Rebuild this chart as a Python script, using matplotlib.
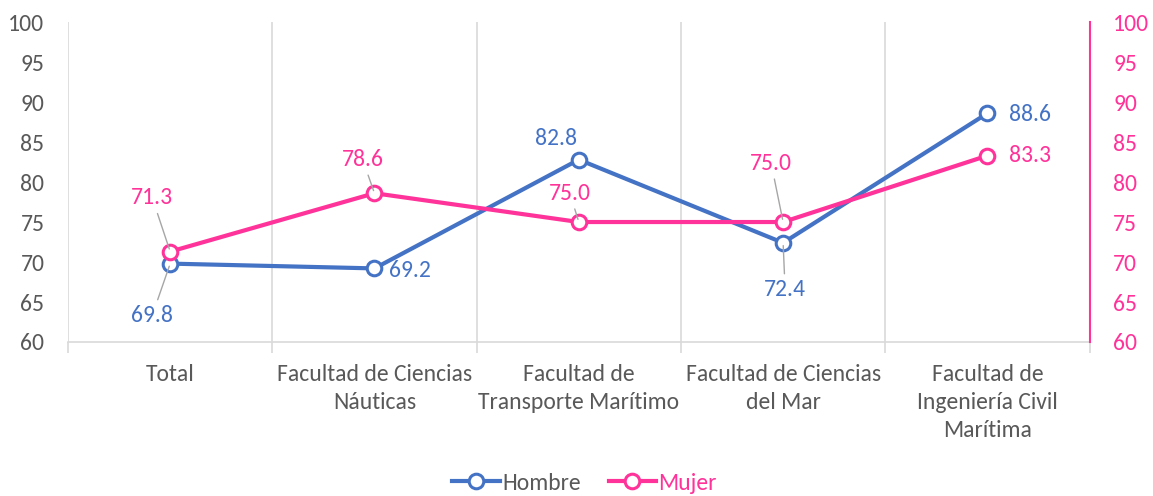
import matplotlib
matplotlib.use("Agg")
import matplotlib.pyplot as plt

plt.rcParams['font.family'] = ['Carlito', 'Liberation Sans Narrow', 'DejaVu Sans']

categorias = ['Total', 'Facultad de Ciencias\nNáuticas', 'Facultad de\nTransporte Marítimo',
              'Facultad de Ciencias\ndel Mar', 'Facultad de\nIngeniería Civil\nMarítima']
hombre = [69.8, 69.2, 82.8, 72.4, 88.6]
mujer = [71.3, 78.6, 75.0, 75.0, 83.3]

# posicion de etiquetas (pixeles respecto al punto) y si llevan linea guia
off_h = [(-18, -52, True), (35, -2, False), (-23, 21, False), (2, -47, True), (43, -1, False)]
off_m = [(-18, 54, True), (-12, 34, True), (-9, 29, True), (-12, 59, True), (43, 0, False)]

azul = '#4472C4'
rosa = '#FF3399'
gris = '#595959'
fs = 17

fig = plt.figure(figsize=(11.53, 4.96), dpi=100)
ax = fig.add_axes([0.059, 0.3105, 0.886, 0.645])
ax2 = ax.twinx()

x = list(range(len(categorias)))
ax.plot(x, hombre, color=azul, lw=3, marker='o', ms=10.5, mfc='white', mew=2.2, zorder=3, label='Hombre')
ax2.plot(x, mujer, color=rosa, lw=3, marker='o', ms=10.5, mfc='white', mew=2.2, zorder=3, label='Mujer')

for a, vals, offs, c in [(ax, hombre, off_h, azul), (ax2, mujer, off_m, rosa)]:
    for i, v in enumerate(vals):
        dx, dy, guia = offs[i]
        props = None
        if guia:
            props = dict(arrowstyle='-', color='#a6a6a6', lw=1, shrinkA=2, shrinkB=2)
        a.annotate(f'{v:.1f}', (i, v), xytext=(dx, dy), textcoords='offset pixels',
                   ha='center', va='center', fontsize=fs, color=c, arrowprops=props, zorder=4)

for a in (ax, ax2):
    a.set_ylim(60, 100)
    a.set_xlim(-0.5, len(categorias) - 0.5)
    a.set_yticks(range(60, 101, 5))

ax.set_xticks(x)
ax.set_xticklabels(categorias, fontsize=fs, color=gris, linespacing=1.4)
ax.set_xticks([i - 0.5 for i in range(len(categorias) + 1)], minor=True)
ax.grid(True, which='minor', axis='x', color='#d9d9d9', lw=1.2)
ax.tick_params(axis='x', which='major', length=0, pad=16)
ax.tick_params(axis='x', which='minor', length=8, color='#d9d9d9', width=1.2)
ax.tick_params(axis='y', length=0, labelsize=fs, labelcolor=gris, pad=17)
ax2.tick_params(axis='y', length=0, labelsize=fs, labelcolor=rosa, pad=17)

for s in ['top', 'left', 'right']:
    ax.spines[s].set_visible(False)
for s in ['top', 'left', 'bottom']:
    ax2.spines[s].set_visible(False)
ax.spines['bottom'].set_color('#d9d9d9')
ax.spines['bottom'].set_linewidth(1.2)
ax2.spines['right'].set_color(rosa)
ax2.spines['right'].set_linewidth(1.5)

h1, l1 = ax.get_legend_handles_labels()
h2, l2 = ax2.get_legend_handles_labels()
leg = fig.legend(h1 + h2, l1 + l2, loc='center', bbox_to_anchor=(0.507, 0.026), ncol=2,
                 frameon=False, fontsize=fs, handlelength=2.0, handletextpad=0.1, columnspacing=1.2)
for t, c in zip(leg.get_texts(), [gris, rosa]):
    t.set_color(c)

fig.savefig('out.png', dpi=100)
